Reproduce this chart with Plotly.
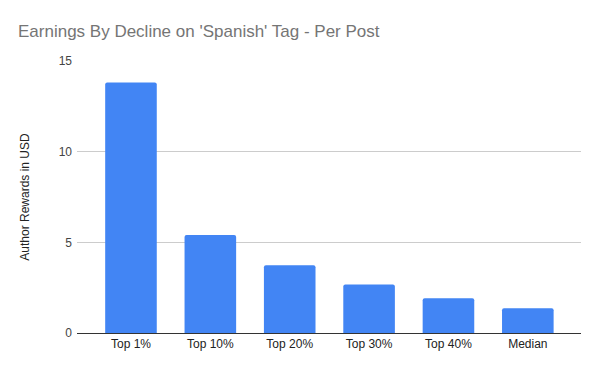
import plotly.graph_objects as go

categories = ["Top 1%", "Top 10%", "Top 20%", "Top 30%", "Top 40%", "Median"]
rewards = [13.81, 5.40, 3.74, 2.68, 1.91, 1.36]

fig = go.Figure(go.Bar(
    x=categories, y=rewards,
    marker=dict(color="#4285F4", line=dict(width=0)),
    hoverinfo="x+y",
))

fig.update_layout(
    width=600, height=371,
    paper_bgcolor="white", plot_bgcolor="white",
    margin=dict(l=77, r=19, t=61, b=38),
    bargap=0.35,
    barcornerradius=2,
    showlegend=False,
    font=dict(family="Liberation Sans, Arial, sans-serif", size=12, color="#222222"),
    title=dict(
        text="Earnings By Decline on 'Spanish' Tag - Per Post",
        font=dict(family="Liberation Sans, Arial, sans-serif", size=17, color="#757575"),
        xref="container", x=0.03, xanchor="left",
        yref="container", y=1 - 31/371, yanchor="middle",
    ),
    xaxis=dict(
        range=[-0.68, 5.67],
        showline=True, linecolor="#333333", linewidth=1,
        showgrid=False, ticks="",
        tickfont=dict(size=12, color="#222222"),
        fixedrange=True,
    ),
    yaxis=dict(
        range=[0, 15], tickvals=[0, 5, 10, 15],
        showgrid=True, gridcolor="#CCCCCC", gridwidth=1,
        zeroline=False, showline=False,
        tickfont=dict(size=12, color="#444444"),
        ticklabelstandoff=4,
        title=dict(text="Author Rewards in USD", font=dict(size=12, color="#222222"), standoff=26),
        fixedrange=True,
    ),
)

fig.write_html("out.html", config={"displayModeBar": False},
               post_script="document.body.style.margin='0';document.body.style.padding='0';")
